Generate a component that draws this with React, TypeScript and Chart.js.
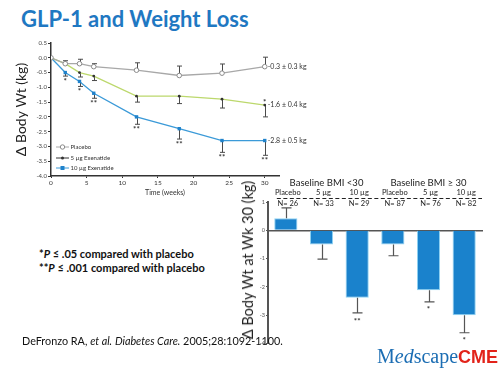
import React, { useEffect, useRef } from "react";
import { Chart, registerables } from "chart.js";

Chart.register(...registerables);

// ---------- Line chart data ----------
const weeks = [0, 2, 4, 6, 12, 18, 24, 30];
const placebo = [0, -0.2, -0.2, -0.3, -0.42, -0.6, -0.52, -0.3];
const placeboErr = [0, 0.1, 0.15, 0.1, 0.25, 0.32, 0.31, 0.32];
const exen5 = [0, -0.2, -0.5, -0.62, -1.3, -1.3, -1.4, -1.6];
const exen5Err = [0, 0, 0.15, 0.15, 0.2, 0.25, 0.3, 0.4];
const exen10 = [0, -0.5, -0.8, -1.2, -2.0, -2.4, -2.8, -2.8];
const exen10Err = [0, 0.12, 0.17, 0.17, 0.25, 0.35, 0.4, 0.5];
const exen10Sig = ["", "*", "*", "**", "**", "**", "**", "**"];
const exen5Sig = ["", "", "", "", "", "", "", "*"];
const lineSeriesNames = ["Placebo", "5 µg Exenatide", "10 µg Exenatide"];
const endLabels = ["-0.3 ± 0.3 kg", "-1.6 ± 0.4 kg", "-2.8 ± 0.5 kg"];

// ---------- Bar chart data ----------
const barGroups = ["Baseline BMI <30", "Baseline BMI ≥ 30"];
const barCategories = ["Placebo", "5 µg", "10 µg", "Placebo", "5 µg", "10 µg"];
const barN = [26, 33, 29, 87, 76, 82];
const barValues = [0.43, -0.5, -2.38, -0.5, -2.12, -3.0];
const barErr = [0.36, 0.52, 0.54, 0.4, 0.41, 0.62];
const barSig = ["", "", "**", "", "*", "*"];

const FONT = "Lato, 'DejaVu Sans', sans-serif";
Chart.defaults.font.family = FONT;

const lineExtras = {
  id: "lineExtras",
  beforeDatasetsDraw(chart: any) {
    const { ctx, scales } = chart;
    const x = scales.x;
    const y = scales.y;
    const drawErr = (vals: number[], errs: number[], dir: number) => {
      ctx.save();
      ctx.strokeStyle = "#4a4a4a";
      ctx.lineWidth = 1;
      vals.forEach((v, i) => {
        if (!errs[i]) return;
        const px = Math.round(x.getPixelForValue(weeks[i])) + 0.5;
        const p0 = y.getPixelForValue(v);
        const p1 = y.getPixelForValue(v + dir * errs[i]);
        ctx.beginPath();
        ctx.moveTo(px, p0);
        ctx.lineTo(px, p1);
        ctx.moveTo(px - 2.5, p1);
        ctx.lineTo(px + 2.5, p1);
        ctx.stroke();
      });
      ctx.restore();
    };
    drawErr(placebo, placeboErr, 1);
    drawErr(exen5, exen5Err, -1);
    drawErr(exen10, exen10Err, -1);
  },
  afterDraw(chart: any) {
    const { ctx, scales } = chart;
    const x = scales.x;
    const y = scales.y;
    ctx.save();
    ctx.fillStyle = "#333";
    ctx.textAlign = "center";
    ctx.textBaseline = "middle";
    ctx.font = `bold 8px ${FONT}`;
    exen10Sig.forEach((s, i) => {
      if (!s) return;
      const px = x.getPixelForValue(weeks[i]);
      const py = y.getPixelForValue(exen10[i] - exen10Err[i]);
      ctx.fillText(s, px, py + 5);
    });
    exen5Sig.forEach((s, i) => {
      if (!s) return;
      const px = x.getPixelForValue(weeks[i]);
      const py = y.getPixelForValue(exen5[i]);
      ctx.fillText(s, px, py - 3);
    });
    ctx.font = `7px ${FONT}`;
    ctx.textAlign = "left";
    const lastVals = [placebo[7], exen5[7], exen10[7]];
    lastVals.forEach((v, i) => {
      ctx.fillText(endLabels[i], x.getPixelForValue(weeks[7]) + 3, y.getPixelForValue(v));
    });
    const ds = chart.data.datasets;
    const rows = [147, 158, 168];
    ctx.font = `6px ${FONT}`;
    rows.forEach((ry, i) => {
      const d = ds[i];
      ctx.strokeStyle = i === 1 ? "#333" : d.borderColor;
      ctx.lineWidth = 1;
      ctx.beginPath();
      ctx.moveTo(56, ry);
      ctx.lineTo(69, ry);
      ctx.stroke();
      ctx.fillStyle = d.pointBackgroundColor;
      ctx.strokeStyle = d.pointBorderColor;
      if (i === 0) {
        ctx.beginPath();
        ctx.arc(62.5, ry, 2.2, 0, Math.PI * 2);
        ctx.fill();
        ctx.stroke();
      } else if (i === 1) {
        ctx.beginPath();
        ctx.arc(62.5, ry, 1.5, 0, Math.PI * 2);
        ctx.fill();
      } else {
        ctx.fillRect(60.5, ry - 2, 4, 4);
      }
      ctx.fillStyle = "#333";
      ctx.fillText(lineSeriesNames[i], 70.5, ry);
    });
    ctx.restore();
  },
};

const barExtras = {
  id: "barExtras",
  afterDatasetsDraw(chart: any) {
    const { ctx, scales } = chart;
    const x = scales.x;
    const y = scales.y;
    ctx.save();
    ctx.strokeStyle = "#555";
    ctx.lineWidth = 1.2;
    barValues.forEach((v, i) => {
      const dir = v >= 0 ? 1 : -1;
      const px = Math.round(x.getPixelForValue(i)) + 0.5;
      const p0 = y.getPixelForValue(v);
      const p1 = y.getPixelForValue(v + dir * barErr[i]);
      ctx.beginPath();
      ctx.moveTo(px, p0);
      ctx.lineTo(px, p1);
      ctx.moveTo(px - 5, p1);
      ctx.lineTo(px + 5, p1);
      ctx.stroke();
    });
    ctx.fillStyle = "#333";
    ctx.textAlign = "center";
    ctx.textBaseline = "middle";
    ctx.font = `bold 8px ${FONT}`;
    barSig.forEach((s, i) => {
      if (!s) return;
      const px = x.getPixelForValue(i);
      const p1 = y.getPixelForValue(barValues[i] - barErr[i]);
      ctx.fillText(s, px, p1 + 8);
    });
    ctx.restore();
  },
  afterDraw(chart: any) {
    const { ctx, scales } = chart;
    const x = scales.x;
    ctx.save();
    ctx.fillStyle = "#222";
    ctx.textAlign = "center";
    ctx.textBaseline = "middle";
    ctx.font = `9.5px ${FONT}`;
    ctx.fillText(barGroups[0], x.getPixelForValue(1) + 5, 13);
    ctx.fillText(barGroups[1], x.getPixelForValue(4), 13);
    ctx.font = `7.5px ${FONT}`;
    barCategories.forEach((c, i) => {
      const px = x.getPixelForValue(i);
      ctx.fillText(c, px + 2, 23);
      ctx.fillText(`N= ${barN[i]}`, px + 2, 33.5);
    });
    ctx.strokeStyle = "#222";
    ctx.lineWidth = 1;
    ctx.setLineDash([4, 2.5]);
    ctx.beginPath();
    ctx.moveTo(x.getPixelForValue(0) - 9, 28.5);
    ctx.lineTo(x.right, 28.5);
    ctx.stroke();
    ctx.restore();
  },
};

function LineChart() {
  const ref = useRef<HTMLCanvasElement>(null);
  useEffect(() => {
    const mk = (vals: number[]) => weeks.map((w, i) => ({ x: w, y: vals[i] }));
    const chart = new Chart(ref.current as HTMLCanvasElement, {
      type: "line",
      data: {
        datasets: [
          {
            label: lineSeriesNames[0],
            data: mk(placebo),
            borderColor: "#a8a8a8",
            borderWidth: 1.3,
            pointRadius: 2.3,
            pointBackgroundColor: "#ffffff",
            pointBorderColor: "#8a8a8a",
            pointBorderWidth: 1,
          },
          {
            label: lineSeriesNames[1],
            data: mk(exen5),
            borderColor: "#bcd86c",
            borderWidth: 1.3,
            pointRadius: 1.4,
            pointBackgroundColor: "#333333",
            pointBorderColor: "#333333",
            pointBorderWidth: 0,
          },
          {
            label: lineSeriesNames[2],
            data: mk(exen10),
            borderColor: "#3b9ad8",
            borderWidth: 1.3,
            pointStyle: "rect",
            pointRadius: 2.4,
            pointBackgroundColor: "#1f82cb",
            pointBorderColor: "#1f82cb",
            pointBorderWidth: 0,
          },
        ],
      } as any,
      options: {
        responsive: false,
        animation: false,
        layout: { padding: { top: 43, right: 41, left: 0, bottom: 0 } },
        plugins: { legend: { display: false }, tooltip: { enabled: false } },
        scales: {
          x: {
            type: "linear",
            min: 0,
            max: 32,
            afterFit: (s: any) => {
              s.height = 24;
            },
            ticks: { stepSize: 5, includeBounds: false, font: { size: 6.5 }, color: "#333", padding: 1, maxRotation: 0 },
            grid: { display: true, drawOnChartArea: false, drawTicks: true, tickLength: 2, color: "#333" },
            border: { display: true, color: "#333", width: 1.5 },
            title: { display: true, text: "Time (weeks)", font: { size: 7 }, color: "#333", padding: { top: 0, bottom: 3 } },
          },
          y: {
            min: -4,
            max: 0.5,
            afterFit: (s: any) => {
              s.width = 51;
            },
            ticks: {
              stepSize: 0.5,
              font: { size: 6 },
              color: "#444",
              padding: 1,
              callback: (v: any) => Number(v).toFixed(1),
            },
            grid: { display: true, drawOnChartArea: false, drawTicks: true, tickLength: 3, color: "#333" },
            border: { display: true, color: "#333", width: 1.5 },
            title: {
              display: true,
              text: "Δ Body Wt (kg)",
              font: { size: 14 },
              color: "#222",
              padding: { top: 13.5, bottom: 0 },
            },
          },
        },
      } as any,
      plugins: [lineExtras],
    });
    return () => chart.destroy();
  }, []);
  return (
    <canvas
      ref={ref}
      width={320}
      height={200}
      style={{ position: "absolute", left: 0, top: 0, width: 320, height: 200 }}
    />
  );
}

function BarChart() {
  const ref = useRef<HTMLCanvasElement>(null);
  useEffect(() => {
    const chart = new Chart(ref.current as HTMLCanvasElement, {
      type: "bar",
      data: {
        labels: barCategories,
        datasets: [
          {
            data: barValues,
            backgroundColor: "#1a82cc",
            borderColor: "#8fd3f3",
            borderWidth: 1,
            categoryPercentage: 1,
            barPercentage: 0.65,
          },
        ],
      },
      options: {
        responsive: false,
        animation: false,
        layout: { padding: { top: 32, right: 18, left: 0, bottom: 11.5 } },
        plugins: { legend: { display: false }, tooltip: { enabled: false } },
        scales: {
          x: {
            position: { y: 0 },
            z: 1,
            afterFit: (s: any) => {
              s.height = 0;
            },
            ticks: { display: false },
            grid: { display: true, drawOnChartArea: false, drawTicks: false },
            border: { display: true, color: "#555", width: 1.5 },
          },
          y: {
            min: -4,
            max: 1,
            afterFit: (s: any) => {
              s.width = 38;
            },
            ticks: { stepSize: 1, font: { size: 5.5 }, color: "#555", padding: 1 },
            grid: { display: true, drawOnChartArea: false, drawTicks: true, tickLength: 2, color: "#555" },
            border: { display: true, color: "#555", width: 2 },
          },
        },
      } as any,
      plugins: [barExtras],
    });
    return () => chart.destroy();
  }, []);
  return (
    <canvas
      ref={ref}
      width={270}
      height={185}
      style={{ position: "absolute", left: 230, top: 170, width: 270, height: 185 }}
    />
  );
}

export default function App() {
  return (
    <div
      style={{
        position: "fixed",
        left: 0,
        top: 0,
        width: 500,
        height: 375,
        background: "#ffffff",
        overflow: "hidden",
        fontFamily: FONT,
      }}
    >
      <div
        style={{
          position: "absolute",
          left: 21,
          top: 6,
          fontSize: 22,
          fontWeight: 700,
          color: "#1f78c2",
          whiteSpace: "nowrap",
          lineHeight: "26px",
        }}
      >
        GLP-1 and Weight Loss
      </div>
      <LineChart />
      <BarChart />
      <div
        style={{
          position: "absolute",
          left: 247.5,
          top: 260,
          transform: "translate(-50%, -50%) rotate(-90deg)",
          fontSize: 14.5,
          color: "#222",
          whiteSpace: "nowrap",
          lineHeight: "18px",
        }}
      >
        Δ Body Wt at Wk 30 (kg)
      </div>
      <div
        style={{
          position: "absolute",
          left: 39,
          top: 247,
          fontSize: 11,
          fontWeight: 700,
          color: "#111",
          lineHeight: "13.5px",
          whiteSpace: "nowrap",
        }}
      >
        <div>
          *<i>P</i> ≤ .05 compared with placebo
        </div>
        <div>
          **<i>P</i> ≤ .001 compared with placebo
        </div>
      </div>
      <div
        style={{
          position: "absolute",
          left: 22,
          top: 334,
          fontSize: 10.8,
          color: "#111",
          whiteSpace: "nowrap",
          lineHeight: "14px",
        }}
      >
        DeFronzo RA, <i>et al.</i> <i>Diabetes Care.</i> 2005;28:1092-1100.
      </div>
      <div
        style={{
          position: "absolute",
          left: 377,
          top: 345,
          whiteSpace: "nowrap",
          lineHeight: "22px",
        }}
      >
        <span style={{ fontFamily: "'Liberation Serif', 'DejaVu Serif', serif", fontSize: 20, color: "#1b6db3" }}>
          M<i>ed</i>scape
        </span>
        <span style={{ fontFamily: "'Liberation Sans', Arial, sans-serif", fontSize: 18, fontWeight: 700, color: "#e2231a" }}>
          CME
        </span>
      </div>
    </div>
  );
}
